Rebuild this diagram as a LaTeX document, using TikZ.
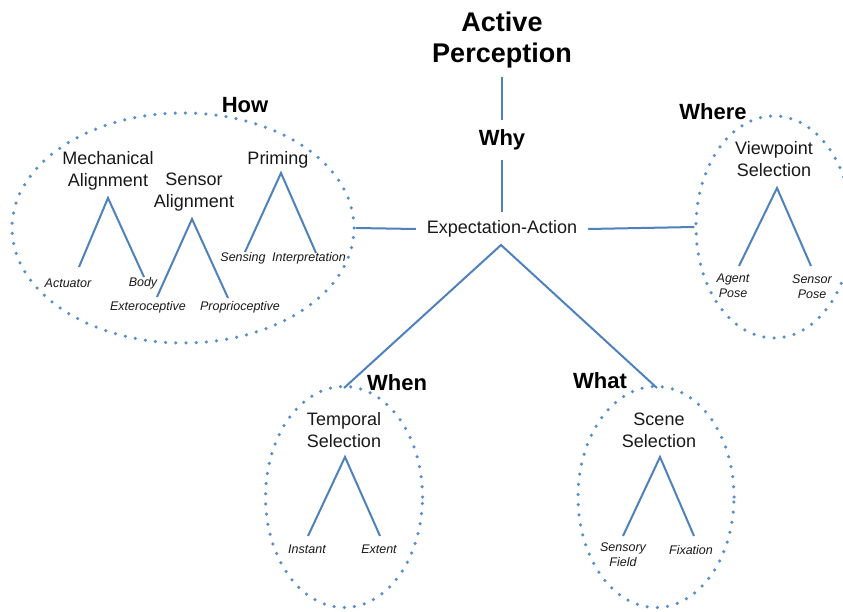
\documentclass[tikz,border=0pt]{standalone}
\usepackage{fontspec}
\setmainfont{Liberation Sans}
\usetikzlibrary{shapes.geometric}
\definecolor{lineblue}{RGB}{79,129,189}
\definecolor{dotblue}{RGB}{84,142,205}
\definecolor{txt}{RGB}{25,25,25}
\begin{document}
\begin{tikzpicture}[x=1pt,y=-1pt,
  lbl/.style={font=\fontsize{18}{22}\selectfont, align=center, inner sep=0pt, text=txt},
  head/.style={font=\fontsize{22}{26}\selectfont\bfseries, align=center, inner sep=0pt, text=black},
  title/.style={font=\fontsize{27}{31}\selectfont\bfseries, align=center, inner sep=0pt, text=black},
  leaf/.style={font=\fontsize{12.5}{15}\selectfont\itshape, align=center, inner sep=0pt, text=txt},
  conn/.style={draw=lineblue, line width=2pt},
  dotell/.style={draw=dotblue, ellipse, line width=3.5pt, dash pattern=on 0pt off 10.2pt, line cap=round, inner sep=0pt}]
\useasboundingbox[fill=white] (0,0) rectangle (843,612);

% ellipses
\node[dotell, minimum width=342pt, minimum height=230pt] (howE) at (183,228) {};
\node[dotell, minimum width=156pt, minimum height=222pt] (whereE) at (774,227) {};
\node[dotell, minimum width=157pt, minimum height=221pt] (whenE) at (344,497) {};
\node[dotell, minimum width=156pt, minimum height=221pt] (whatE) at (656,497) {};

% top
\node[title] (ap) at (502,40) {Active\\Perception};
\node[head] (why) at (502,140) {Why};
\node[lbl, inner xsep=11pt] (ea) at (502,229) {Expectation-Action};
\coordinate (apB) at (502,77);
\coordinate (whyT) at (502,120);
\coordinate (whyB) at (502,160);
\coordinate (eaT) at (502,212);
\coordinate (eaApex) at (501,245);
\coordinate (whenTop) at (344,388);
\coordinate (whatTop) at (657,388);
\draw[conn] (apB) -- (whyT);
\draw[conn] (whyB) -- (eaT);
\draw[conn] (howE.east) -- (ea.west);
\draw[conn] (ea.east) -- (whereE.west);
\draw[conn] (whenTop) -- (eaApex) -- (whatTop);

% headings
\node[head] (how) at (245,105) {How};
\node[head] (where) at (713,112) {Where};
\node[head] (when) at (397,383) {When};
\node[head] (what) at (600,381) {What};

% How: Mechanical Alignment
\node[lbl] (mech) at (108,171) {Mechanical\\Alignment};
\coordinate (mechA) at (108,198);
\coordinate (mechL) at (79,267);
\coordinate (mechR) at (144,277);
\node[leaf] (act) at (68,283) {Actuator};
\node[leaf] (body) at (143,283) {Body};
\draw[conn] (mechL) -- (mechA) -- (mechR);

% How: Sensor Alignment
\node[lbl] (sens) at (194,192.5) {Sensor\\Alignment};
\coordinate (sensA) at (192,219);
\coordinate (sensL) at (157,297);
\coordinate (sensR) at (228,298);
\node[leaf] (ext) at (148,307) {Exteroceptive};
\node[leaf] (pro) at (240,307) {Proprioceptive};
\draw[conn] (sensL) -- (sensA) -- (sensR);

% How: Priming
\node[lbl] (prim) at (278,160) {Priming};
\coordinate (primA) at (281,173);
\coordinate (primL) at (245,252);
\coordinate (primR) at (316,253);
\node[leaf] (sensing) at (243,258) {Sensing};
\node[leaf] (interp) at (309,258) {Interpretation};
\draw[conn] (primL) -- (primA) -- (primR);

% Where
\node[lbl] (view) at (774,159) {Viewpoint\\Selection};
\coordinate (viewA) at (777,188);
\coordinate (viewL) at (739,266);
\coordinate (viewR) at (811,266);
\node[leaf] (agent) at (733,285.5) {Agent\\Pose};
\node[leaf] (spose) at (812,286.5) {Sensor\\Pose};
\draw[conn] (viewL) -- (viewA) -- (viewR);

% When
\node[lbl] (temp) at (344,430) {Temporal\\Selection};
\coordinate (tempA) at (345,457);
\coordinate (tempL) at (308,536);
\coordinate (tempR) at (380,536);
\node[leaf] (inst) at (307,549) {Instant};
\node[leaf] (extent) at (379,549) {Extent};
\draw[conn] (tempL) -- (tempA) -- (tempR);

% What
\node[lbl] (scene) at (659,430.5) {Scene\\Selection};
\coordinate (sceneA) at (660,457);
\coordinate (sceneL) at (623,536);
\coordinate (sceneR) at (694,536);
\node[leaf] (sfield) at (623,555) {Sensory\\Field};
\node[leaf] (fix) at (691,550) {Fixation};
\draw[conn] (sceneL) -- (sceneA) -- (sceneR);
\end{tikzpicture}
\end{document}
